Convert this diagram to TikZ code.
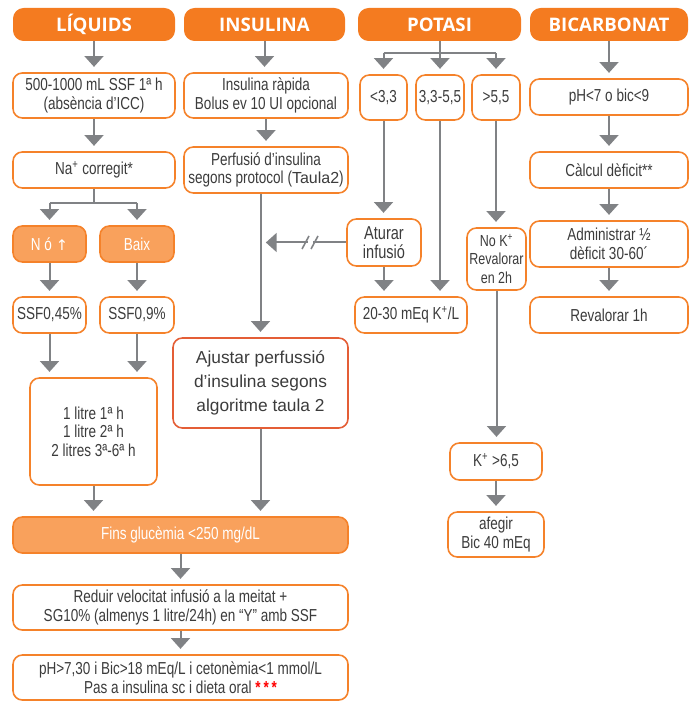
\documentclass[tikz,border=0pt]{standalone}
\usepackage{fontspec}
\setmainfont[FakeStretch=0.78]{Liberation Sans}
\newfontfamily\hdrfont{Open Sans}
\newfontfamily\widefont{Liberation Sans}
\newfontfamily\symfont{DejaVu Sans}
\usetikzlibrary{arrows.meta}

\definecolor{orng}{HTML}{F47B20}
\definecolor{lorng}{HTML}{F9A15C}
\definecolor{bord}{HTML}{F5822A}
\definecolor{ajbord}{HTML}{E45E36}
\definecolor{grayc}{HTML}{808285}
\definecolor{txt}{HTML}{3C3C3C}

% node from its corner coordinates: style, name, x1, y1, x2, y2
\newcommand\place[6]{\node[#1, minimum width={(#5-#3)*0.75pt}, minimum height={(#6-#4)*0.75pt}] (#2) at ({(#3+#5)/2},{(#4+#6)/2})}

\begin{document}
\begin{tikzpicture}[x=0.75pt, y=-0.75pt,
  hdr/.style={fill=orng, rounded corners=8pt, text=white, inner sep=0pt,
    font=\hdrfont\bfseries\fontsize{14}{16}\selectfont},
  box/.style={draw=bord, line width=1.2pt, rounded corners=7pt, fill=white,
    text=txt, align=center, inner sep=0pt, font=\fontsize{13}{14}\selectfont},
  fbox/.style={box, fill=lorng, text=white},
  abox/.style={box, draw=ajbord, font=\widefont\fontsize{13}{18}\selectfont},
  ln/.style={draw=grayc, line width=1.5pt},
  arr/.style={ln, -{Triangle[width=14pt,length=8pt]}, shorten >=4pt},
  slash/.style={draw=grayc, line width=1.2pt}]

\useasboundingbox (0,0) rectangle (690,705);

% column headers
\place{hdr}{h1}{13}{8}{175}{41}{LÍQUIDS};
\place{hdr}{h2}{184}{8}{345}{41}{INSULINA};
\place{hdr}{h3}{358}{8}{521}{41}{POTASI};
\place{hdr}{h4}{530}{8}{688}{41}{BICARBONAT};

% fluids
\place{box}{l1}{13}{73}{175}{118}{500-1000 mL SSF 1ª h\\(absència d’ICC)};
\place{box}{l2}{13}{152}{175}{188}{Na\textsuperscript{+} corregit*};
\place{fbox}{l3a}{13}{226}{86}{262}{N ó {\symfont\fontsize{11}{13}\selectfont ↑}};
\place{fbox}{l3b}{100}{226}{174}{262}{Baix};
\place{box}{l4a}{13}{297}{86}{333}{SSF0,45\%};
\place{box}{l4b}{100}{297}{174}{333}{SSF0,9\%};
\place{box}{l5}{30}{378}{157}{485}{\fontsize{13}{15}\selectfont 1 litre 1ª h\\1 litre 2ª h\\2 litres 3ª-6ª h};

% common end of the flow
\place{fbox}{g1}{13}{517}{348}{553}{Fins glucèmia <250 mg/dL};
\place{box}{g2}{13}{585}{348}{630}{Reduir velocitat infusió a la meitat +\\SG10\% (almenys 1 litre/24h) en “Y” amb SSF};
\place{box}{g3}{13}{655}{348}{700}{pH>7,30 i Bic>18 mEq/L i cetonèmia<1 mmol/L\\Pas a insulina sc i dieta oral {\color{red}\bfseries *\,*\,*}};

% insulin
\place{box}{i1}{184}{73}{348}{118}{Insulina ràpida\\Bolus ev 10 UI opcional};
\place{box}{i2}{184}{147}{348}{193}{Perfusió d’insulina\\segons protocol ({\widefont\fontsize{12}{14}\selectfont Taula2})};
\place{abox}{i3}{173}{338}{348}{428}{Ajustar perfussió\\d’insulina segons\\algoritme taula 2};

% potassium
\place{box}{k1}{360}{75}{407}{120}{<3,3};
\place{box}{k2}{416}{75}{464}{120}{3,3-5,5};
\place{box}{k3}{472}{75}{520}{120}{>5,5};
\place{box}{k4}{347}{219}{421}{266}{\fontsize{14}{15.5}\selectfont Aturar\\\fontsize{14}{15.5}\selectfont infusió};
\place{box}{k5}{355}{297}{467}{333}{20-30 mEq K\textsuperscript{+}/L};
\place{box}{k6}{467}{228}{526}{290}{\fontsize{12}{13}\selectfont No K\textsuperscript{+}\\\fontsize{12}{13}\selectfont Revalorar\\\fontsize{12}{13}\selectfont en 2h};
\place{box}{k7}{450}{443}{542}{480}{K\textsuperscript{+} >6,5};
\place{box}{k8}{448}{512}{544}{557}{afegir\\Bic 40 mEq};

% bicarbonate
\place{box}{b1}{530}{79}{688}{115}{pH<7 o bic<9};
\place{box}{b2}{530}{152}{688}{188}{Càlcul dèficit**};
\place{box}{b3}{530}{221}{688}{267}{Administrar ½\\dèficit 30-60´};
\place{box}{b4}{530}{297}{688}{333}{Revalorar 1h};

% fluids connectors
\draw[arr] (h1.south) -- (h1.south |- l1.north);
\draw[arr] (l1.south) -- (l2.north);
\draw[ln] (l2.south) -- ++(0,14) coordinate (nj);
\draw[ln] (nj -| l3a.north) -- (nj -| l3b.north);
\draw[arr] (nj -| l3a.north) -- (l3a.north);
\draw[arr] (nj -| l3b.north) -- (l3b.north);
\draw[arr] (l3a.south) -- (l4a.north);
\draw[arr] (l3b.south) -- (l4b.north);
\draw[arr] (l4a.south) -- (l4a.south |- l5.north);
\draw[arr] (l4b.south) -- (l4b.south |- l5.north);
\draw[arr] (l5.south) -- (l5.south |- g1.north);
\draw[arr] (g1.south) -- (g2.north);
\draw[arr] (g2.south) -- (g3.north);

% insulin connectors
\draw[arr] (h2.south) -- (h2.south |- i1.north);
\draw[arr] (i1.south) -- (i1.south |- i2.north);
\draw[arr] (i3.north |- i2.south) -- (i3.north);
\draw[arr] (i3.south) -- (i3.south |- g1.north);

% potassium connectors
\draw[ln] (h3.south) -- ++(0,12) coordinate (kj);
\draw[ln] (kj -| k1.north) -- (kj -| k3.north);
\draw[arr] (kj -| k1.north) -- (k1.north);
\draw[arr] (kj -| k2.north) -- (k2.north);
\draw[arr] (kj -| k3.north) -- (k3.north);
\draw[arr] (k1.south) -- (k1.south |- k4.north);
\draw[arr] (k4.south) -- (k4.south |- k5.north);
\draw[arr] (k2.south) -- (k2.south |- k5.north);
\draw[arr] (k3.south) -- (k3.south |- k6.north);
\draw[arr] (k6.south) -- (k6.south |- k7.north);
\draw[arr] (k7.south) -- (k7.south |- k8.north);

% interrupted link back to the insulin infusion
\coordinate (stop) at (i3.north |- k4.west);
\draw[arr] (k4.west) -- (stop);
\fill[white] (308,238) rectangle (313,247);
\draw[slash] (302,249) -- (309,236);
\draw[slash] (311,249) -- (318,236);

% bicarbonate connectors
\draw[arr] (h4.south) -- (h4.south |- b1.north);
\draw[arr] (b1.south) -- (b2.north);
\draw[arr] (b2.south) -- (b3.north);
\draw[arr] (b3.south) -- (b4.north);
\end{tikzpicture}
\end{document}
